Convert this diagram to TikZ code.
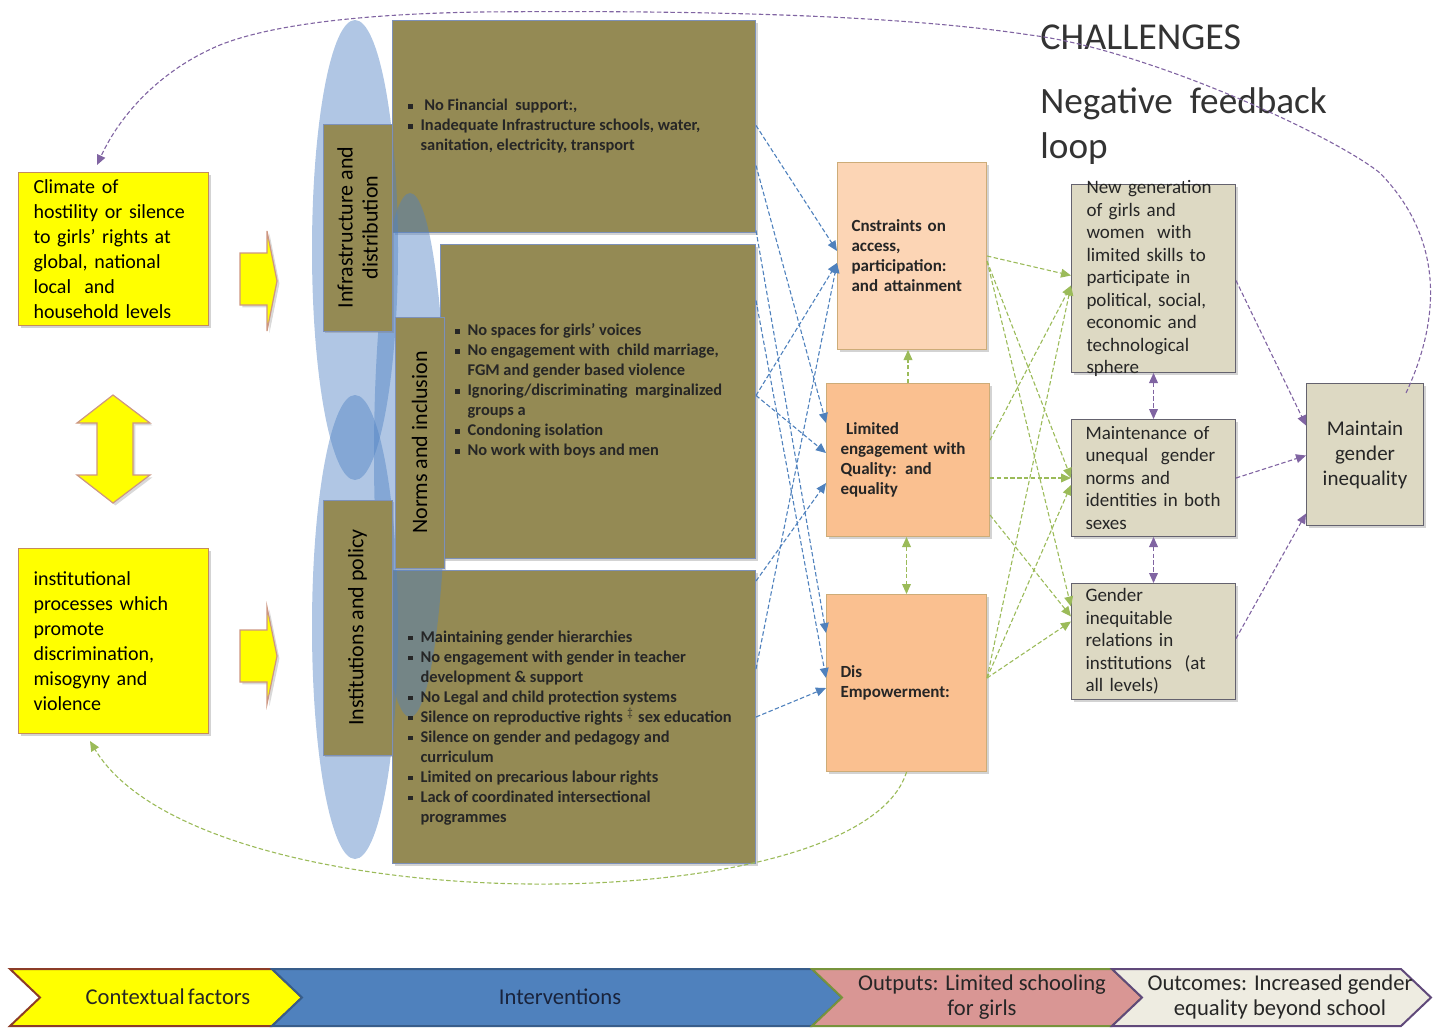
\documentclass[tikz,border=0pt]{standalone}
\usepackage{fontspec}
\setmainfont{Carlito}
\usepackage{xcolor}
\usetikzlibrary{arrows.meta,positioning,calc,shadows}
\definecolor{ctxyellow}{RGB}{255,255,0}
\definecolor{ctxedge}{RGB}{196,140,90}
\definecolor{gold}{RGB}{148,138,84}
\definecolor{goldedge}{RGB}{125,145,185}
\definecolor{ellblue}{RGB}{79,129,195}
\definecolor{peachlight}{RGB}{252,213,181}
\definecolor{peach}{RGB}{250,192,144}
\definecolor{peachedge}{RGB}{205,172,120}
\definecolor{greybox}{RGB}{221,217,195}
\definecolor{greyedge}{RGB}{100,98,110}
\definecolor{linkblue}{RGB}{79,129,189}
\definecolor{linkgreen}{RGB}{155,187,89}
\definecolor{linkpurple}{RGB}{128,100,162}
\definecolor{chevyellowedge}{RGB}{140,60,40}
\definecolor{chevblue}{RGB}{79,129,189}
\definecolor{chevblueedge}{RGB}{56,93,138}
\definecolor{chevpink}{RGB}{217,150,148}
\definecolor{chevpinkedge}{RGB}{119,147,60}
\definecolor{chevlight}{RGB}{238,236,225}
\definecolor{chevlightedge}{RGB}{96,73,122}
\tikzset{
  box/.style={draw, line width=0.5pt, anchor=north west, inner xsep=7pt, inner ysep=1pt, align=left,
    drop shadow={shadow xshift=1.2pt, shadow yshift=-1.2pt, opacity=0.35}},
  ctxbox/.style={box, fill=ctxyellow, draw=ctxedge, inner xsep=7.5pt, font=\fontsize{10}{12.5}\selectfont},
  goldbox/.style={box, fill=gold, draw=goldedge},
  tabbox/.style={goldbox, anchor=center, align=center, inner sep=0pt, rotate=90, font=\fontsize{11}{12.5}\selectfont},
  bultext/.style={anchor=west, inner sep=0pt, text=black!85, font=\fontsize{8.2}{10}\selectfont\bfseries},
  outbox/.style={box, draw=peachedge, text=black!85, font=\fontsize{8.5}{10}\selectfont\bfseries},
  effbox/.style={box, fill=greybox, draw=greyedge, text=black!85, font=\fontsize{9.5}{11.25}\selectfont},
  blockarrow/.style={fill=ctxyellow, draw={rgb,255:red,205;green,150;blue,130}, line width=0.6pt,
    drop shadow={shadow xshift=1.2pt, shadow yshift=-1.2pt, opacity=0.3}},
  ellfill/.style={fill=ellblue, fill opacity=0.45},
  chevlabel/.style={align=center, inner sep=0pt, text=black!85, font=\fontsize{11.3}{12.5}\selectfont},
  link/.style={->, line width=0.55pt, dash pattern=on 2.2pt off 1.2pt},
  bluelink/.style={link, draw=linkblue},
  greenlink/.style={link, draw=linkgreen},
  purplelink/.style={link, draw=linkpurple}
}
\newcommand{\bsq}{\rule[0.25ex]{2.1pt}{2.1pt}}
\newcommand{\chevron}[3]{\filldraw[#3] (#1,969) -- (#2,969) -- ++(30,28.5) -- ++(-30,28.5) -- (#1,1026) -- ++(30,-28.5) -- cycle;}

\begin{document}
\begin{tikzpicture}[x=0.5pt, y=-0.5pt, >={Triangle[length=5pt,width=4.4pt]}]
  \useasboundingbox (0,0) rectangle (1433,1028);

  % contextual factors
  \node[ctxbox, minimum width=95pt, minimum height=76.5pt, text width=80pt] (climate) at (18,172)
    {Climate of\\hostility or silence\\to girls’ rights at\\global, national\\local\ \ and\\household levels};
  \node[ctxbox, minimum width=95pt, minimum height=92.5pt, text width=80pt] (instproc) at (18,548)
    {institutional\\processes which\\promote\\discrimination,\\misogyny and\\violence};
  \filldraw[blockarrow] (240,253) -- (267,253) -- (267,231) -- (277,281) -- (267,331) -- (267,305) -- (240,305) -- cycle;
  \filldraw[blockarrow] (240,630) -- (267,630) -- (267,607) -- (277,656) -- (267,704) -- (267,682) -- (240,682) -- cycle;
  \filldraw[blockarrow] (113,395) -- (150,423) -- (133,423) -- (133,475) -- (150,475) -- (113,503)
    -- (77,475) -- (97,475) -- (97,423) -- (77,423) -- cycle;

  % interventions
  \node[goldbox, minimum width=181.5pt, minimum height=106pt] (infra) at (392,20) {};
  \node[goldbox, minimum width=157.5pt, minimum height=157pt] (norms) at (440,244) {};
  \node[goldbox, minimum width=181.5pt, minimum height=146.5pt] (inst) at (392,570) {};
  \fill[ellfill] (355,250) ellipse [x radius=21.5pt, y radius=115pt];
  \fill[ellfill] (355,627) ellipse [x radius=21.5pt, y radius=116pt];
  \fill[ellfill] (410,455) ellipse [x radius=18pt, y radius=131pt];
  \node[tabbox, minimum width=103.5pt, minimum height=34.5pt] (infratab) at (357.5,227.5) {Infrastructure and\\distribution};
  \node[tabbox, minimum width=125.5pt, minimum height=24.5pt] (normstab) at (419.5,442.5) {Norms and inclusion};
  \node[tabbox, minimum width=127.5pt, minimum height=34.5pt] (insttab) at (357.5,627.5) {Institutions and policy};
  \node[bultext] (infratxt) at ([xshift=8pt]infra.west) {\begin{tabular}{@{}l@{\hspace{4pt}}l@{}}
    \bsq & \ No Financial\ \ support:,\\
    \bsq & Inadequate Infrastructure schools, water,\\
         & sanitation, electricity, transport
  \end{tabular}};
  \node[bultext] (normstxt) at ([xshift=7.5pt,yshift=5pt]norms.west) {\begin{tabular}{@{}l@{\hspace{4pt}}l@{}}
    \bsq & No spaces for girls’ voices\\
    \bsq & No engagement with\ \ child marriage,\\
         & FGM and gender based violence\\
    \bsq & Ignoring/discriminating\ \ marginalized\\
         & groups a\\
    \bsq & Condoning isolation\\
    \bsq & No work with boys and men
  \end{tabular}};
  \node[bultext] (insttxt) at ([xshift=8pt,yshift=-5.5pt]inst.west) {\begin{tabular}{@{}l@{\hspace{4pt}}l@{}}
    \bsq & Maintaining gender hierarchies\\
    \bsq & No engagement with gender in teacher\\
         & development \& support\\
    \bsq & No Legal and child protection systems\\
    \bsq & Silence on reproductive rights $^{\ddagger}$ sex education\\
    \bsq & Silence on gender and pedagogy and\\
         & curriculum\\
    \bsq & Limited on precarious labour rights\\
    \bsq & Lack of coordinated intersectional\\
         & programmes
  \end{tabular}};

  % outputs
  \node[outbox, fill=peachlight, minimum width=74.5pt, minimum height=93.5pt, text width=60.5pt] (access) at (837,162)
    {Cnstraints on\\access,\\participation:\\and attainment};
  \node[outbox, fill=peach, minimum width=81.5pt, minimum height=76.5pt, text width=67.5pt] (quality) at (826,383)
    {\ Limited\\engagement with\\Quality: and\\equality};
  \node[outbox, fill=peach, minimum width=80pt, minimum height=88.5pt, text width=66pt] (empower) at (826,594)
    {Dis\\Empowerment:};

  % outcomes
  \node[effbox, minimum width=82pt, minimum height=94pt] (newgen) at (1071,184) {};
  \node[align=left, inner sep=0pt, text width=67pt, text=black!85, font=\fontsize{9.5}{11.25}\selectfont] (newgentxt) at (newgen.center)
    {New generation\\of girls and\\women\ \ with\\limited skills to\\participate in\\political, social,\\economic and\\technological\\sphere};
  \node[effbox, minimum width=82pt, minimum height=58.5pt, text width=68pt] (normsout) at (1071,419)
    {Maintenance of\\unequal\ \ gender\\norms and\\identities in both\\sexes};
  \node[effbox, minimum width=82pt, minimum height=58pt, text width=68pt] (instout) at (1071,583)
    {Gender\\inequitable\\relations in\\institutions\ \ (at\\all levels)};
  \node[effbox, minimum width=58.5pt, minimum height=71pt, text width=44.5pt, align=center, font=\fontsize{10.5}{12.5}\selectfont] (maintain) at (1306,383)
    {Maintain\\gender\\inequality};

  % titles
  \node[anchor=west, inner sep=0pt, text=black!80, font=\fontsize{19}{22.5}\selectfont] (challenges) at (1040,37) {CHALLENGES};
  \node[anchor=north west, align=left, inner sep=0pt, text=black!80, font=\fontsize{18.6}{22.5}\selectfont] (negloop) at (1040,87) {Negative\ \ feedback\\loop};

  % interventions -> outputs
  \draw[bluelink] ($(infra.east)+(0,-1)$) -- ($(access.west)+(0,-5)$);
  \draw[bluelink] ($(infra.east)+(0,39)$) -- ($(quality.west)+(0,-37)$);
  \draw[bluelink] ($(infra.east)+(0,104)$) -- ($(empower.west)+(0,-50)$);
  \draw[bluelink] ($(norms.east)+(0,-6)$) -- ($(access.west)+(0,7)$);
  \draw[bluelink] ($(norms.east)+(0,-6)$) -- ($(quality.west)+(0,-7)$);
  \draw[bluelink] ($(norms.east)+(0,-101)$) -- ($(empower.west)+(0,-5)$);
  \draw[bluelink] ($(inst.east)+(0,-48)$) -- ($(access.west)+(0,7)$);
  \draw[bluelink] ($(inst.east)+(0,-136)$) -- ($(quality.west)+(0,23)$);
  \draw[bluelink] (inst.east) -- ($(empower.west)+(0,5)$);

  % outputs -> outcomes
  \draw[greenlink] (access.east) -- ($(newgen.west)+(0,-3)$);
  \draw[greenlink] ($(access.east)+(0,5)$) -- (normsout.west);
  \draw[greenlink] ($(access.east)+(0,5)$) -- ($(instout.west)+(0,-35)$);
  \draw[greenlink] ($(quality.east)+(0,-20)$) -- ($(newgen.west)+(0,7)$);
  \draw[greenlink] ($(quality.east)+(0,18)$) -- (normsout.west);
  \draw[greenlink] ($(quality.east)+(0,55)$) -- ($(instout.west)+(0,-25)$);
  \draw[greenlink] ($(empower.east)+(0,-5)$) -- ($(newgen.west)+(0,7)$);
  \draw[greenlink] ($(empower.east)+(0,-5)$) -- ($(normsout.west)+(0,7)$);
  \draw[greenlink] ($(empower.east)+(0,-5)$) -- ($(instout.west)+(0,-20)$);
  \draw[greenlink] (quality.north) -- (quality.north |- access.south);
  \draw[greenlink, <->] (empower.north |- quality.south) -- (empower.north);
  \draw[greenlink] (empower.south) .. controls (860,925) and (200,925) .. ($(instproc.south west)+(72,7)$);

  % outcomes -> maintain, and back round
  \draw[purplelink, <->] (newgen.south) -- (normsout.north);
  \draw[purplelink, <->] (normsout.south) -- (instout.north);
  \draw[purplelink] ($(newgen.east)+(0,2)$) -- ($(maintain.west)+(0,-29)$);
  \draw[purplelink] (normsout.east) -- ($(maintain.west)+(0,1)$);
  \draw[purplelink] ($(instout.east)+(0,-3)$) -- ($(maintain.west)+(0,59)$);
  \draw[purplelink] ($(maintain.north east)+(-18,10)$) .. controls (1440,320) and (1445,240) .. (1380,173)
    .. controls (1330,133) and (1140,48) .. (1030,35) .. controls (900,15) and (700,10) .. (480,12)
    .. controls (360,14) and (270,25) .. (220,45)
    .. controls (160,70) and (120,115) .. ($(climate.north west)+(79,-7)$);

  % stage bar
  \chevron{10}{272}{fill=ctxyellow, draw=chevyellowedge, line width=1pt}
  \chevron{272}{812}{fill=chevblue, draw=chevblueedge, line width=1pt}
  \chevron{812}{1112}{fill=chevpink, draw=chevpinkedge, line width=1pt}
  \chevron{1112}{1401}{fill=chevlight, draw=chevlightedge, line width=1pt}
  \node[chevlabel] (ctxlab) at (168,997) {Contextual\hspace{1.5pt}factors};
  \node[chevlabel, text={rgb,255:red,25;green,35;blue,60}] (intvlab) at (560,997) {Interventions};
  \node[chevlabel] (outplab) at (982,997) {Outputs: Limited schooling\\for girls};
  \node[chevlabel] (outclab) at (1280,997) {Outcomes: Increased gender\\equality beyond school};
\end{tikzpicture}
\end{document}
